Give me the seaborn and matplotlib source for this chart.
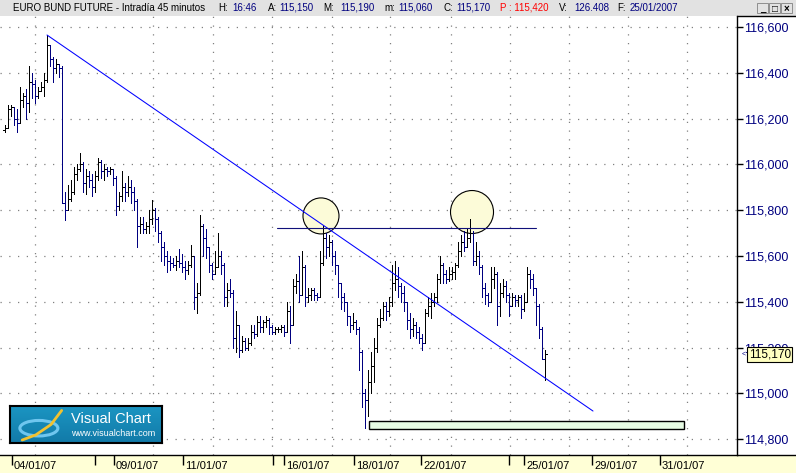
import numpy as np
import pandas as pd
import matplotlib
matplotlib.use('Agg')
import matplotlib.pyplot as plt
import matplotlib.patches as mpatches
import matplotlib.transforms as mtransforms
import seaborn as sns

# EURO BUND FUTURE - barras de 45 minutos
apertura_inicial = 116.15
cierre = [116.16, 116.24, 116.25, 116.20, 116.18, 116.28, 116.30, 116.27, 116.36, 116.35,
          116.30, 116.32, 116.34, 116.37, 116.52, 116.46, 116.42, 116.44, 116.42, 115.83,
          115.80, 115.85, 115.88, 115.96, 115.98, 116.00, 115.92, 115.95, 115.93, 115.90,
          115.95, 116.01, 115.97, 115.98, 115.97, 115.98, 115.94, 115.82, 115.86, 115.90,
          115.88, 115.90, 115.88, 115.84, 115.73, 115.74, 115.72, 115.73, 115.76, 115.80,
          115.76, 115.70, 115.64, 115.60, 115.58, 115.57, 115.56, 115.58, 115.57, 115.55,
          115.54, 115.56, 115.60, 115.42, 115.44, 115.73, 115.68, 115.64, 115.56, 115.52,
          115.55, 115.60, 115.56, 115.42, 115.45, 115.44, 115.24, 115.30, 115.19, 115.23,
          115.20, 115.22, 115.27, 115.26, 115.31, 115.29, 115.31, 115.32, 115.29, 115.27,
          115.28, 115.28, 115.29, 115.27, 115.36, 115.30, 115.47, 115.49, 115.43, 115.55,
          115.42, 115.43, 115.45, 115.43, 115.42, 115.57, 115.68, 115.64, 115.66, 115.60,
          115.56, 115.48, 115.42, 115.40, 115.34, 115.30, 115.31, 115.28, 115.18, 115.00,
          114.97, 115.05, 115.12, 115.20, 115.30, 115.33, 115.38, 115.36, 115.40, 115.48,
          115.50, 115.47, 115.44, 115.40, 115.32, 115.28, 115.30, 115.27, 115.24, 115.22,
          115.35, 115.38, 115.40, 115.42, 115.50, 115.56, 115.52, 115.50, 115.52, 115.53,
          115.56, 115.62, 115.66, 115.64, 115.68, 115.70, 115.58, 115.60, 115.55, 115.46,
          115.43, 115.40, 115.50, 115.52, 115.38, 115.44, 115.47, 115.43, 115.38, 115.42,
          115.41, 115.42, 115.37, 115.40, 115.52, 115.50, 115.46, 115.38, 115.28, 115.15,
          115.17]
maximo = [116.17, 116.26, 116.26, 116.25, 116.24, 116.34, 116.31, 116.33, 116.43, 116.40,
          116.37, 116.34, 116.36, 116.40, 116.565, 116.52, 116.47, 116.46, 116.44, 116.43,
          115.88, 115.91, 115.93, 115.99, 116.00, 116.05, 116.01, 115.98, 115.97, 115.96,
          115.97, 116.03, 116.02, 116.00, 115.99, 115.99, 115.97, 115.95, 115.88, 115.97,
          115.92, 115.95, 115.93, 115.90, 115.85, 115.77, 115.77, 115.75, 115.80, 115.845,
          115.81, 115.77, 115.71, 115.66, 115.62, 115.60, 115.59, 115.60, 115.63, 115.61,
          115.58, 115.58, 115.65, 115.60, 115.48, 115.78, 115.74, 115.72, 115.64, 115.57,
          115.62, 115.70, 115.62, 115.57, 115.48, 115.50, 115.45, 115.36, 115.28, 115.25,
          115.24, 115.24, 115.30, 115.30, 115.34, 115.34, 115.32, 115.34, 115.33, 115.30,
          115.29, 115.29, 115.30, 115.30, 115.40, 115.38, 115.50, 115.52, 115.60, 115.62,
          115.56, 115.46, 115.46, 115.46, 115.44, 115.62, 115.73, 115.70, 115.69, 115.67,
          115.62, 115.56, 115.48, 115.44, 115.40, 115.34, 115.35, 115.32, 115.29, 115.19,
          115.02, 115.10, 115.18, 115.24, 115.33, 115.37, 115.40, 115.40, 115.42, 115.56,
          115.58, 115.55, 115.48, 115.47, 115.40, 115.35, 115.33, 115.31, 115.29, 115.26,
          115.37, 115.42, 115.44, 115.44, 115.52, 115.60, 115.57, 115.54, 115.55, 115.55,
          115.57, 115.66, 115.69, 115.71, 115.72, 115.76, 115.71, 115.66, 115.62, 115.56,
          115.48, 115.44, 115.55, 115.55, 115.53, 115.48, 115.50, 115.49, 115.44, 115.44,
          115.43, 115.43, 115.43, 115.44, 115.55, 115.54, 115.52, 115.46, 115.39, 115.29,
          115.19]
minimo = [116.14, 116.16, 116.21, 116.17, 116.14, 116.18, 116.25, 116.20, 116.23, 116.29,
          116.27, 116.29, 116.32, 116.30, 116.36, 116.43, 116.36, 116.40, 116.38, 115.83,
          115.757, 115.80, 115.84, 115.87, 115.93, 115.97, 115.88, 115.87, 115.90, 115.86,
          115.88, 115.93, 115.94, 115.93, 115.95, 115.96, 115.91, 115.78, 115.80, 115.84,
          115.84, 115.86, 115.83, 115.80, 115.64, 115.70, 115.70, 115.70, 115.70, 115.74,
          115.71, 115.66, 115.58, 115.56, 115.53, 115.54, 115.55, 115.54, 115.55, 115.53,
          115.50, 115.52, 115.55, 115.37, 115.35, 115.43, 115.60, 115.59, 115.53, 115.50,
          115.52, 115.55, 115.52, 115.38, 115.38, 115.42, 115.20, 115.18, 115.16, 115.18,
          115.19, 115.19, 115.21, 115.24, 115.25, 115.27, 115.27, 115.29, 115.26, 115.26,
          115.26, 115.27, 115.27, 115.25, 115.27, 115.22, 115.30, 115.44, 115.40, 115.43,
          115.38, 115.40, 115.41, 115.41, 115.41, 115.42, 115.56, 115.59, 115.60, 115.56,
          115.52, 115.42, 115.37, 115.36, 115.30, 115.27, 115.28, 115.26, 115.10, 114.94,
          114.85, 114.90, 115.00, 115.05, 115.18, 115.29, 115.32, 115.32, 115.34, 115.38,
          115.45, 115.42, 115.40, 115.36, 115.28, 115.24, 115.25, 115.24, 115.22, 115.19,
          115.22, 115.34, 115.33, 115.38, 115.40, 115.48, 115.48, 115.48, 115.49, 115.50,
          115.50, 115.55, 115.60, 115.62, 115.64, 115.66, 115.56, 115.56, 115.52, 115.42,
          115.39, 115.38, 115.40, 115.46, 115.30, 115.34, 115.42, 115.40, 115.34, 115.38,
          115.38, 115.38, 115.33, 115.36, 115.40, 115.46, 115.43, 115.30, 115.24, 115.15,
          115.06]

# eje de fechas (posicion en barras) y rejilla vertical
marcas_dia = [2.33, 30, 36.33, 59.33, 89.33, 93, 116.33, 138.67, 168, 173, 195.67, 218.33]
etiquetas_dia = ['04/01/07', '', '09/01/07', '11/01/07', '', '16/01/07', '18/01/07',
                 '22/01/07', '', '25/01/07', '29/01/07', '31/01/07']
rejilla_x = [10, 30, 49.33, 69.33, 89, 109, 128.33, 148.67, 168.33, 188, 207.67, 227.33]
niveles = [114.8, 115.0, 115.2, 115.4, 115.6, 115.8, 116.0, 116.2, 116.4, 116.6]
etiquetas_nivel = ['114,800', '115,000', '115,200', '115,400', '115,600', '115,800',
                   '116,000', '116,200', '116,400', '116,600']

# lineas dibujadas sobre el grafico
tendencia_x = [14, 196]
tendencia_y = [116.565, 114.923]
resistencia_x = [90.7, 177]
resistencia_y = [115.722, 115.722]
ultimo = 115.17

df = pd.DataFrame({'cierre': cierre, 'maximo': maximo, 'minimo': minimo})
df['barra'] = np.arange(len(df))
df['apertura'] = [apertura_inicial] + cierre[:-1]
df['maximo'] = df[['maximo', 'apertura', 'cierre']].max(axis=1)
df['minimo'] = df[['minimo', 'apertura', 'cierre']].min(axis=1)
df['color'] = np.where(df['cierre'] >= df['apertura'], 'black', '#000080')

sns.set_style('white')
plt.rcParams['font.family'] = ['Liberation Sans', 'DejaVu Sans']

W, H = 796, 473
fig = plt.figure(figsize=(W / 100, H / 100), dpi=100)
fig.patch.set_facecolor('white')

# barra de titulo y banda de fechas (por debajo de los ejes)
fig.patches.append(mpatches.Rectangle((0, 1 - 16 / H), 1, 16 / H, transform=fig.transFigure,
                                      fc='#e2e2e2', ec='none', zorder=-2))
fig.patches.append(mpatches.Rectangle((0, 0), 1, 18 / H, transform=fig.transFigure,
                                      fc='#ffffd6', ec='none', zorder=-2))

ax = fig.add_axes([0, 18 / H, 737 / W, 439 / H])
ax.set_facecolor('white')

lw_px = 0.72
ax.vlines(df['barra'], df['minimo'], df['maximo'], colors=df['color'], lw=lw_px,
          antialiased=False, zorder=3)
ax.hlines(df['apertura'], df['barra'] - 0.7, df['barra'], colors=df['color'], lw=lw_px,
          antialiased=False, zorder=3)
ax.hlines(df['cierre'], df['barra'], df['barra'] + 0.7, colors=df['color'], lw=lw_px,
          antialiased=False, zorder=3)

# circulos de los dos maximos
for cx, cy, r in [(105.33, 115.775, 18), (155.67, 115.792, 21.5)]:
    ax.add_patch(mpatches.Ellipse((cx, cy), 2 * r / 3, 2 * r / 229, fc='#fcfbd8',
                                  ec='black', lw=0.8, zorder=2))

ax.add_patch(mpatches.Rectangle((121.3, 114.846), 105, 0.033, fc='#e6fbe3', ec='black',
                                lw=1.0, zorder=2))

sns.lineplot(x=tendencia_x, y=tendencia_y, ax=ax, color='#0000ff', lw=0.75, zorder=4)
sns.lineplot(x=resistencia_x, y=resistencia_y, ax=ax, color='#10107a', lw=0.8, zorder=4)

ax.set_xlim(-5 / 3, 244)
ax.set_ylim(114.731, 116.648)

# eje de precios a la derecha
ax.yaxis.tick_right()
ax.set_yticks(niveles)
ax.set_yticklabels(etiquetas_nivel)
ax.tick_params(axis='y', direction='out', length=4, width=1, color='black',
               labelcolor='#000080', labelsize=9, pad=1, right=True, left=False)
ax.grid(which='major', axis='y', ls=(0, (1, 6)), color='#808080', lw=0.9)

ax.set_xticks(marcas_dia)
ax.set_xticklabels([''] * len(marcas_dia))
ax.set_xticks(rejilla_x, minor=True)
ax.tick_params(axis='x', which='major', direction='out', length=7, width=1, color='black',
               bottom=True)
ax.tick_params(axis='x', which='minor', length=0)
ax.grid(which='minor', axis='x', ls=(0, (1, 6)), color='#808080', lw=0.9)
ax.grid(which='major', axis='x', visible=False)
ax.set_axisbelow(True)

txt = mtransforms.offset_copy(ax.get_xaxis_transform(), fig=fig, x=2, y=-11, units='dots')
for pos, lab in zip(marcas_dia, etiquetas_dia):
    if lab:
        ax.text(pos, 0, lab, transform=txt, ha='left', va='center', fontsize=8,
                color='black', clip_on=False)

for s in ['left', 'top']:
    ax.spines[s].set_visible(False)
for s in ['right', 'bottom']:
    ax.spines[s].set_color('black')
    ax.spines[s].set_linewidth(1.0)
ax.set_xlabel('')
ax.set_ylabel('')

fig.lines.append(plt.Line2D([737 / W, 1], [1 - 16.5 / H] * 2, transform=fig.transFigure,
                            color='black', lw=1))
fig.lines.append(plt.Line2D([737 / W, 1], [18 / H] * 2, transform=fig.transFigure,
                            color='black', lw=1))

# ultimo precio
yx = mtransforms.blended_transform_factory(ax.transAxes, ax.transData)
ax.text(1.006, ultimo, '<', transform=yx, fontsize=5, va='center', ha='left', clip_on=False,
        color='#000080', zorder=9)
ax.text(1.016, ultimo, '115,170', transform=yx, fontsize=8.5, va='center', ha='left',
        clip_on=False, color='black', zorder=10,
        bbox=dict(boxstyle='square,pad=0.12', fc='#ffffc0', ec='black', lw=0.8))

# texto de la barra de titulo
titulo = [(13, 'EURO BUND FUTURE - Intradía 45 minutos', 'black'), (218, 'H:', 'black'),
          (232, '16:46', '#000080'), (268, 'A:', 'black'), (279, '115,150', '#000080'),
          (323, 'M:', 'black'), (340, '115,190', '#000080'), (384, 'm:', 'black'),
          (398, '115,060', '#000080'), (443, 'C:', 'black'), (456, '115,170', '#000080'),
          (500, 'P : 115,420', '#ff0000'), (559, 'V:', 'black'), (574, '126.408', '#000080'),
          (617, 'F:', 'black'), (630, '25/01/2007', '#000080')]
for px, s, c in titulo:
    fig.text(px / W, 1 - 8 / H, s, ha='left', va='center', fontsize=7.0, color=c)

for bx, g in [(757, '_'), (769, '□'), (781, '×')]:
    fig.patches.append(mpatches.Rectangle((bx / W, 1 - 13.5 / H), 11 / W, 10 / H,
                                          transform=fig.transFigure, fc='#e2e2e2',
                                          ec='#808080', lw=0.6, zorder=1))
    fig.text((bx + 5.5) / W, 1 - 8.5 / H, g, ha='center', va='center', fontsize=7,
             fontweight='bold', color='black')

# logo Visual Chart
lg = fig.add_axes([10 / W, 30 / H, 152 / W, 37 / H])
grad = np.linspace(0, 1, 50).reshape(-1, 1)
lg.imshow(grad, aspect='auto', extent=[0, 1, 0, 1],
          cmap=matplotlib.colors.LinearSegmentedColormap.from_list('vc', ['#1b95c2', '#127aa8']))
lg.add_patch(mpatches.Ellipse((0.19, 0.40), 0.25, 0.42, fc='none', ec='#6fc6ef', lw=2.2))
lg.plot([0.08, 0.17, 0.27, 0.34], [0.08, 0.22, 0.5, 0.88], color='#f2c230', lw=2)
lg.text(0.40, 0.64, 'Visual Chart', color='white', fontsize=10.5, va='center', ha='left')
lg.text(0.40, 0.25, 'www.visualchart.com', color='white', fontsize=6.5, va='center', ha='left')
lg.set_xlim(0, 1)
lg.set_ylim(0, 1)
lg.set_xticks([])
lg.set_yticks([])
for s in lg.spines.values():
    s.set_color('black')
    s.set_linewidth(1.5)

fig.savefig('out.png', dpi=100)
